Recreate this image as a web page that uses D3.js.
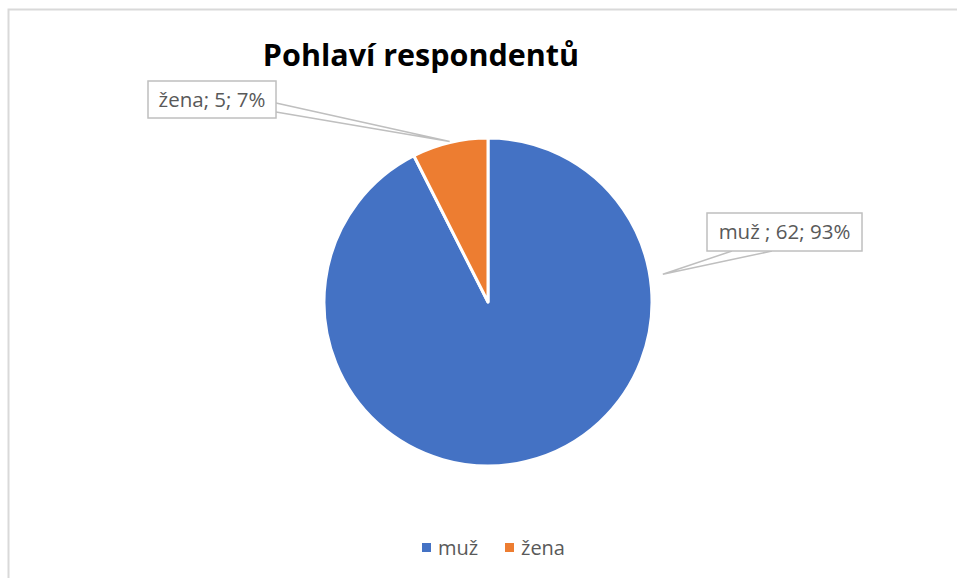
<!DOCTYPE html>
<html>
<head>
<meta charset="utf-8">
<script src="https://cdn.jsdelivr.net/npm/d3@7"></script>
<style>
  body { margin: 0; background: #fff; }
  svg { display: block; }
</style>
</head>
<body>
<div id="chart"></div>
<script>
var categories = ["muž", "žena"];
var counts = [62, 5];
var percents = ["93%", "7%"];
var labelTexts = ["muž ; 62; 93%", "žena; 5; 7%"];
var colors = ["#4472C4", "#ED7D31"];

var svgWidth = 957;
var svgHeight = 578;
var cx = 488, cy = 302, radius = 164;
var fontFam = "'Open Sans', sans-serif";

var svg = d3.select("#chart")
  .append("svg")
  .attr("width", svgWidth)
  .attr("height", svgHeight);

// chart border
svg.append("rect")
  .attr("x", 8.5).attr("y", 9.5)
  .attr("width", 1000).attr("height", 700)
  .attr("fill", "#fff")
  .attr("stroke", "#d9d9d9")
  .attr("stroke-width", 2);

// title
svg.append("text")
  .attr("x", 421).attr("y", 66)
  .attr("text-anchor", "middle")
  .style("font-family", "'Open Sans', sans-serif")
  .style("font-weight", "bold")
  .style("font-size", "30.5px")
  .attr("fill", "#000")
  .text("Pohlaví respondentů");

var data = categories.map(function(c, i) {
  return { cat: c, value: counts[i], label: labelTexts[i], color: colors[i] };
});

var pie = d3.pie().sort(null).value(d => d.value);
var arcs = pie(data);
var arc = d3.arc().innerRadius(0).outerRadius(radius);

var pieGroup = svg.append("g")
  .attr("transform", `translate(${cx}, ${cy})`);

pieGroup.selectAll("path")
  .data(arcs)
  .enter()
  .append("path")
  .attr("d", arc)
  .attr("fill", d => d.data.color)
  .attr("stroke", "#fff")
  .attr("stroke-width", 3)
  .attr("stroke-linejoin", "round");

// data labels (placed where the reference has them)
var labelBoxes = [
  { x: 707, y: 213, w: 155, h: 38, anchorR: 177, anchorA: 81 * Math.PI / 180, side: "bottom", p1: 732, p2: 772 },
  { x: 148, y: 81, w: 128, h: 37, anchorR: radius + 1, anchorA: null, side: "right", p1: 103, p2: 112 }
];

arcs.forEach(function(a, i) {
  var b = labelBoxes[i];
  var ang = b.anchorA !== null ? b.anchorA : (a.startAngle + a.endAngle) / 2;
  var px = cx + b.anchorR * Math.sin(ang);
  var py = cy - b.anchorR * Math.cos(ang);
  var pts;
  if (b.side === "bottom") {
    pts = [[b.p1, b.y + b.h], [px, py], [b.p2, b.y + b.h]];
  } else {
    pts = [[b.x + b.w, b.p1], [px, py], [b.x + b.w, b.p2]];
  }
  svg.append("path")
    .attr("d", d3.line()(pts))
    .attr("fill", "none")
    .attr("stroke", "#bfbfbf")
    .attr("stroke-width", 1.5);

  svg.append("rect")
    .attr("x", b.x).attr("y", b.y)
    .attr("width", b.w).attr("height", b.h)
    .attr("fill", "#fff")
    .attr("stroke", "#bfbfbf")
    .attr("stroke-width", 1.5);

  svg.append("text")
    .attr("x", b.x + b.w / 2).attr("y", b.y + b.h / 2 + 7)
    .attr("text-anchor", "middle")
    .style("font-family", fontFam)
    .style("font-size", "20.5px")
    .attr("fill", "#595959")
    .text(a.data.label);
});

// legend
var legendX = [422, 505];
var legend = svg.append("g");
data.forEach(function(d, i) {
  legend.append("rect")
    .attr("x", legendX[i]).attr("y", 543)
    .attr("width", 9).attr("height", 9)
    .attr("fill", d.color);
  legend.append("text")
    .attr("x", legendX[i] + 16).attr("y", 555)
    .style("font-family", fontFam)
    .style("font-size", "20px")
    .attr("fill", "#595959")
    .text(d.cat);
});
</script>
</body>
</html>
